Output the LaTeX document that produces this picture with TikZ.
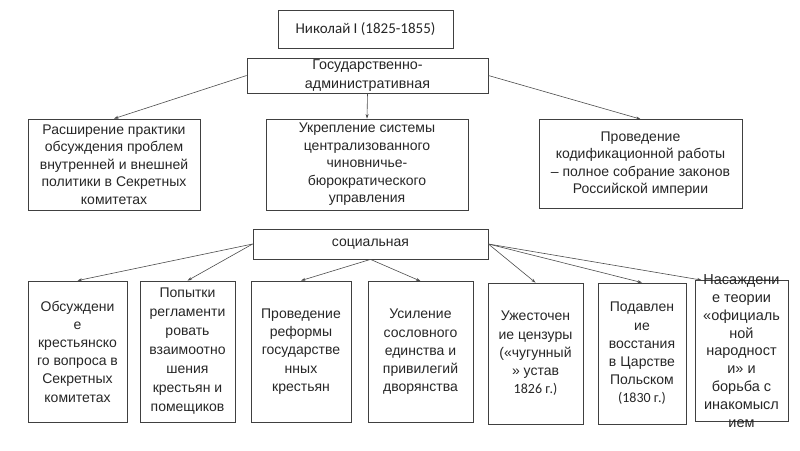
\documentclass[tikz,border=0pt]{standalone}
\usepackage{fontspec}
\setmainfont{Liberation Sans}
\newfontfamily\calfont{Carlito}
\usetikzlibrary{arrows.meta}

\begin{document}
\begin{tikzpicture}[x=1pt,y=-1pt,
  box/.style={draw=black!75, line width=0.8pt, inner sep=0pt, align=center, text=black!85, font=\fontsize{14}{17.5}\selectfont},
  lowbox/.style={box, minimum width=#1, minimum height=141, font=\fontsize{14}{18.2}\selectfont},
  link/.style={draw=black!70, line width=0.6pt, -{Stealth[length=4.5pt,width=3pt]}}]
\useasboundingbox (0,0) rectangle (800,450);

\node[box, minimum width=175, minimum height=38, font=\calfont\fontsize{15}{17}\selectfont] (tsar) at (365.5,29) {Николай I (1825-1855)};
\node[box, minimum width=241, minimum height=35, font=\fontsize{14.3}{18.5}\selectfont] (gos) at (367.5,75.5) {Государственно-\\административная};

\node[box, minimum width=172, minimum height=91] (prac) at (114,164.5) {Расширение практики\\обсуждения проблем\\внутренней и внешней\\политики в Секретных\\комитетах};
\node[box, minimum width=202, minimum height=91] (centr) at (367,164.5) {Укрепление системы\\централизованного\\чиновничье-\\бюрократического\\управления};
\node[box, minimum width=203, minimum height=89] (cod) at (640.5,164) {Проведение\\кодификационной работы\\– полное собрание законов\\Российской империи};

\draw[link] (gos.west) -- (prac.north);
\draw[link] (gos.south) -- (centr.north);
\draw[link] (gos.east) -- (cod.north);

\node[box, minimum width=235, minimum height=30] (soc) at (370.5,244) {социальная};

\node[lowbox=99] (peas) at (77.5,351.5) {Обсуждени\\е\\крестьянско\\го вопроса в\\Секретных\\комитетах};
\node[lowbox=95, font=\fontsize{14}{19}\selectfont] (rules) at (187.5,351.5) {Попытки\\регламенти\\ровать\\взаимоотно\\шения\\крестьян и\\помещиков};
\node[lowbox=100] (state) at (301,351.5) {Проведение\\реформы\\государстве\\нных\\крестьян};
\node[lowbox=105] (nobl) at (420.5,352) {Усиление\\сословного\\единства и\\привилегий\\дворянства};
\node[lowbox=95] (cens) at (535.5,353.5) {Ужесточен\\ие цензуры\\(«чугунный\\» устав\\{\calfont 1826 г.)}};
\node[lowbox=88] (pol) at (642,353.5) {Подавлен\\ие\\восстания\\в Царстве\\Польском\\{\calfont (1830 г.)}};
\node[lowbox=93] (theo) at (741.5,351) {};

\draw[link] (soc.west) -- (peas.north);
\draw[link] (soc.west) -- (rules.north);
\draw[link] (soc.south) -- (state.north);
\draw[link] (soc.south) -- (nobl.north);
\draw[link] (soc.east) -- (cens.north);
\draw[link] (soc.east) -- (pol.north);
\draw[link] (soc.east) -- ([xshift=7pt]theo.north west);

\node[box, draw=none, font=\fontsize{14.5}{17.8}\selectfont] (theotext) at (theo.center) {Насаждени\\е теории\\«официаль\\ной\\народност\\и» и\\борьба с\\инакомысл\\ием};
\end{tikzpicture}
\end{document}
